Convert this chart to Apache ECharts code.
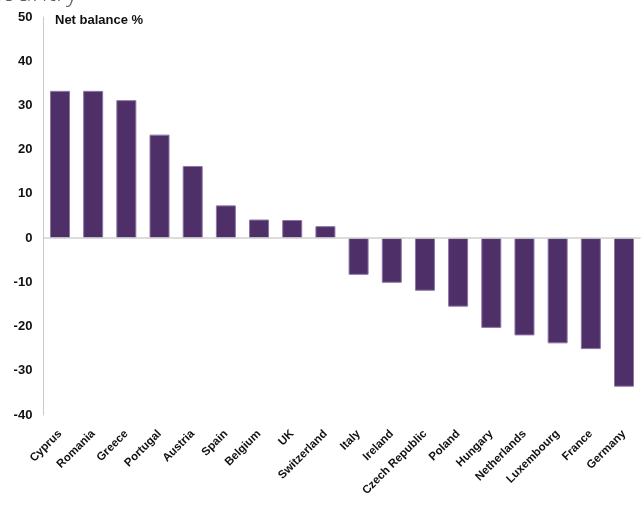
<!DOCTYPE html>
<html>
<head>
<meta charset="utf-8">
<script src="https://cdn.jsdelivr.net/npm/echarts@6/dist/echarts.min.js"></script>
<style>
html,body{margin:0;padding:0;background:#fff;}
#c{width:643px;height:509px;}
</style>
</head>
<body>
<div id="c"></div>
<script>
const countries = ["Cyprus","Romania","Greece","Portugal","Austria","Spain","Belgium","UK","Switzerland","Italy","Ireland","Czech Republic","Poland","Hungary","Netherlands","Luxembourg","France","Germany"];
const netBalance = [33.3,33.3,31.2,23.4,16.3,7.4,4.2,4.1,2.7,-8.3,-10.1,-11.9,-15.5,-20.3,-22.0,-23.8,-25.1,-33.6];
const yMin = -40, yMax = 50, yStep = 10;
const axisTitle = "Net balance %";
const clippedTitle = "by country";

const chart = echarts.init(document.getElementById('c'), null, {renderer:'canvas'});
chart.setOption({
  animation:false,
  backgroundColor:'#fff',
  graphic:[
    {type:'text', right: 565, top: -19, style:{text:clippedTitle, font:'300 26px "Open Sans"', fill:'#595959'}},
    {type:'text', left: 55, top: 14, style:{text:axisTitle, font:'bold 13px "Liberation Sans", Arial', fill:'#111'}}
  ],
  grid:{left:43.4, right:2.4, top:17, bottom:94, containLabel:false},
  xAxis:{
    type:'category', data:countries,
    axisLine:{show:false, onZero:false},
    axisTick:{show:false},
    position:'bottom',
    axisLabel:{rotate:45, interval:0, margin:17, color:'#111', fontFamily:'"Liberation Sans", Arial', fontWeight:'bold', fontSize:11.5}
  },
  yAxis:{
    type:'value', min:yMin, max:yMax, interval:yStep,
    axisLine:{show:true, lineStyle:{color:'#c8c8c8', width:1}},
    axisTick:{show:false},
    splitLine:{show:false},
    axisLabel:{margin:11, color:'#111', fontFamily:'"Liberation Sans", Arial', fontWeight:'bold', fontSize:13}
  },
  series:[{
    type:'bar', data:netBalance, barWidth:20,
    itemStyle:{color:'#4e2f68', borderColor:'#8c76a3', borderWidth:1},
    markLine:{silent:true, symbol:'none', label:{show:false}, data:[{yAxis:0}], lineStyle:{color:'#d0d0d0', type:'solid', width:1.5}},
    z:2
  }]
});
</script>
</body>
</html>
